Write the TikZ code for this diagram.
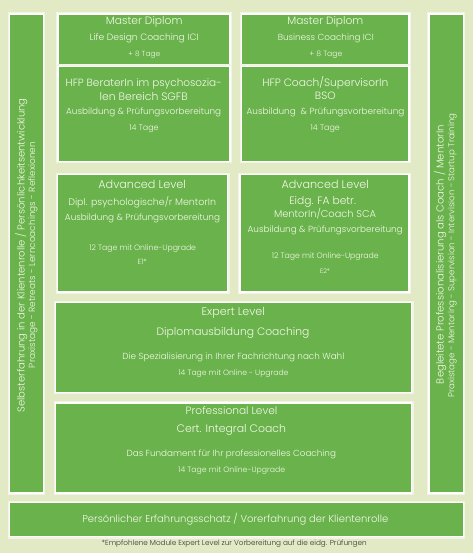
\documentclass[tikz,border=0pt]{standalone}
\usepackage{fontspec}
\IfFontExistsTF{Poppins Light}{\setmainfont{Poppins Light}}{\setmainfont{Poppins}}
\definecolor{bg}{RGB}{226,233,197}
\definecolor{boxgreen}{RGB}{106,178,76}
\definecolor{txtc}{RGB}{242,249,232}
\newcommand{\fw}[2]{\resizebox{#1pt}{!}{#2}}
\begin{document}
\begin{tikzpicture}[x=1pt,y=-1pt,
  panel/.style={fill=boxgreen,draw=white,line width=1.4pt,inner sep=0pt,outer sep=0pt,
    preaction={draw=white!55!bg,line width=3.6pt}},
  lbl/.style={text=txtc,inner sep=0pt,anchor=center,font=\fontsize{10}{12}\selectfont},
]
\useasboundingbox (0,0) rectangle (473,553);
\fill[bg] (0,0) rectangle (473,553);

% panels
\node[panel,minimum width=34pt,minimum height=479pt] (lbar) at (26.3,253.5) {};
\node[panel,minimum width=34.3pt,minimum height=479pt] (rbar) at (446.2,253.5) {};
\node[panel,minimum width=172pt,minimum height=52.3pt] (m1) at (144,40.15) {};
\node[panel,minimum width=172pt,minimum height=95.2pt] (h1) at (144,113.9) {};
\node[panel,minimum width=167.3pt,minimum height=52.3pt] (m2) at (325.3,40.15) {};
\node[panel,minimum width=167.3pt,minimum height=95.2pt] (h2) at (325.3,113.9) {};
\draw[white,line width=1.4pt] (m1.south west) -- (m1.south east);
\draw[white,line width=1.4pt] (m2.south west) -- (m2.south east);
\node[panel,minimum width=170pt,minimum height=117.5pt] (a1) at (142.7,233.25) {};
\node[panel,minimum width=169pt,minimum height=117.5pt] (a2) at (324.5,233.25) {};
\node[panel,minimum width=356pt,minimum height=90pt] (ex) at (233.7,347.5) {};
\node[panel,minimum width=356pt,minimum height=90pt] (pr) at (233.7,448) {};
\node[panel,minimum width=454pt,minimum height=34.2pt] (bot) at (236.3,519.6) {};

% left bar texts
\node[lbl,rotate=90] (l1) at (21.3,255.3) {\fw{314}{Selbsterfahrung in der Klientenrolle / Persönlichkeitsentwicklung}};
\node[lbl,rotate=90] (l2) at (33,255) {\fw{226}{Praxistage - Retreats - Lerncoachings - Reflexionen}};
% right bar texts
\node[lbl,rotate=90] (r1) at (440.3,254.5) {\fw{259}{Begleitete Professionalisierung als Coach / MentorIn}};
\node[lbl,rotate=90] (r2) at (452.3,255.3) {\fw{284}{Praxistage - Mentoring - Supervision - Intervision - Startup Training}};

% Master left
\node[lbl] (m1a) at (144.2,22) {\fw{76.5}{Master Diplom}};
\node[lbl] (m1b) at (144.2,38.5) {\fw{109}{Life Design Coaching ICI}};
\node[lbl] (m1c) at (144.2,54.7) {\fw{32}{+ 8 Tage}};
% HFP left
\node[lbl] (h1a) at (143.7,83.6) {\fw{156}{HFP BeraterIn im psychosozia-}};
\node[lbl] (h1b) at (143.7,96.3) {\fw{88}{len Bereich SGFB}};
\node[lbl] (h1c) at (143.7,112.8) {\fw{155}{Ausbildung \& Prüfungsvorbereitung}};
\node[lbl] (h1d) at (144,129.2) {\fw{29.3}{14 Tage}};
% Master right
\node[lbl] (m2a) at (325.3,22) {\fw{76}{Master Diplom}};
\node[lbl] (m2b) at (325.8,38.5) {\fw{96}{Business Coaching ICI}};
\node[lbl] (m2c) at (325.8,54.7) {\fw{33}{+ 8 Tage}};
% HFP right
\node[lbl] (h2a) at (325.3,82.6) {\fw{126}{HFP Coach/SupervisorIn}};
\node[lbl] (h2b) at (325.3,95.6) {\fw{20.7}{BSO}};
\node[lbl] (h2c) at (325.5,112.3) {\fw{157.7}{Ausbildung \ \& Prüfungsvorbereitung}};
\node[lbl] (h2d) at (325.3,128.8) {\fw{29.3}{14 Tage}};
% Advanced left
\node[lbl] (a1a) at (142.2,184.8) {\fw{87.7}{Advanced Level}};
\node[lbl] (a1b) at (142.2,202) {\fw{147.7}{Dipl. psychologische/r MentorIn}};
\node[lbl] (a1c) at (142.5,218.6) {\fw{155}{Ausbildung \& Prüfungsvorbereitung}};
\node[lbl] (a1d) at (142.7,248.2) {\fw{106.7}{12 Tage mit Online-Upgrade}};
\node[lbl] (a1e) at (142.2,261.6) {\fw{9.3}{E1*}};
% Advanced right
\node[lbl] (a2a) at (325.3,184) {\fw{87.3}{Advanced Level}};
\node[lbl] (a2b) at (322.7,202.4) {\fw{66.7}{Eidg. FA betr.}};
\node[lbl] (a2c) at (325,213.8) {\fw{102}{MentorIn/Coach SCA}};
\node[lbl] (a2d) at (325.2,230.4) {\fw{155}{Ausbildung \& Prüfungsvorbereitung}};
\node[lbl] (a2e) at (325.3,256.3) {\fw{107}{12 Tage mit Online-Upgrade}};
\node[lbl] (a2f) at (325,270.8) {\fw{10}{E2*}};
% Expert
\node[lbl] (exa) at (233.3,313) {\fw{63.3}{Expert Level}};
\node[lbl] (exb) at (233,332.9) {\fw{152.7}{Diplomausbildung Coaching}};
\node[lbl] (exc) at (233.3,357.2) {\fw{222}{Die Spezialisierung in Ihrer Fachrichtung nach Wahl}};
\node[lbl] (exd) at (233.5,373.8) {\fw{110}{14 Tage mit Online - Upgrade}};
% Professional
\node[lbl] (pra) at (231.5,410.2) {\fw{91.7}{Professional Level}};
\node[lbl] (prb) at (231.3,430) {\fw{109.3}{Cert. Integral Coach}};
\node[lbl] (prc) at (231.3,454) {\fw{209.3}{Das Fundament für Ihr professionelles Coaching}};
\node[lbl] (prd) at (231.7,470.7) {\fw{106.7}{14 Tage mit Online-Upgrade}};
% bottom
\node[lbl] (bota) at (235.3,518.7) {\fw{306}{Persönlicher Erfahrungsschatz / Vorerfahrung der Klientenrolle}};
\node[lbl,text=black!80] (foot) at (234.2,544) {\fw{265}{*Empfohlene Module Expert Level zur Vorbereitung auf die eidg. Prüfungen}};
\end{tikzpicture}
\end{document}
